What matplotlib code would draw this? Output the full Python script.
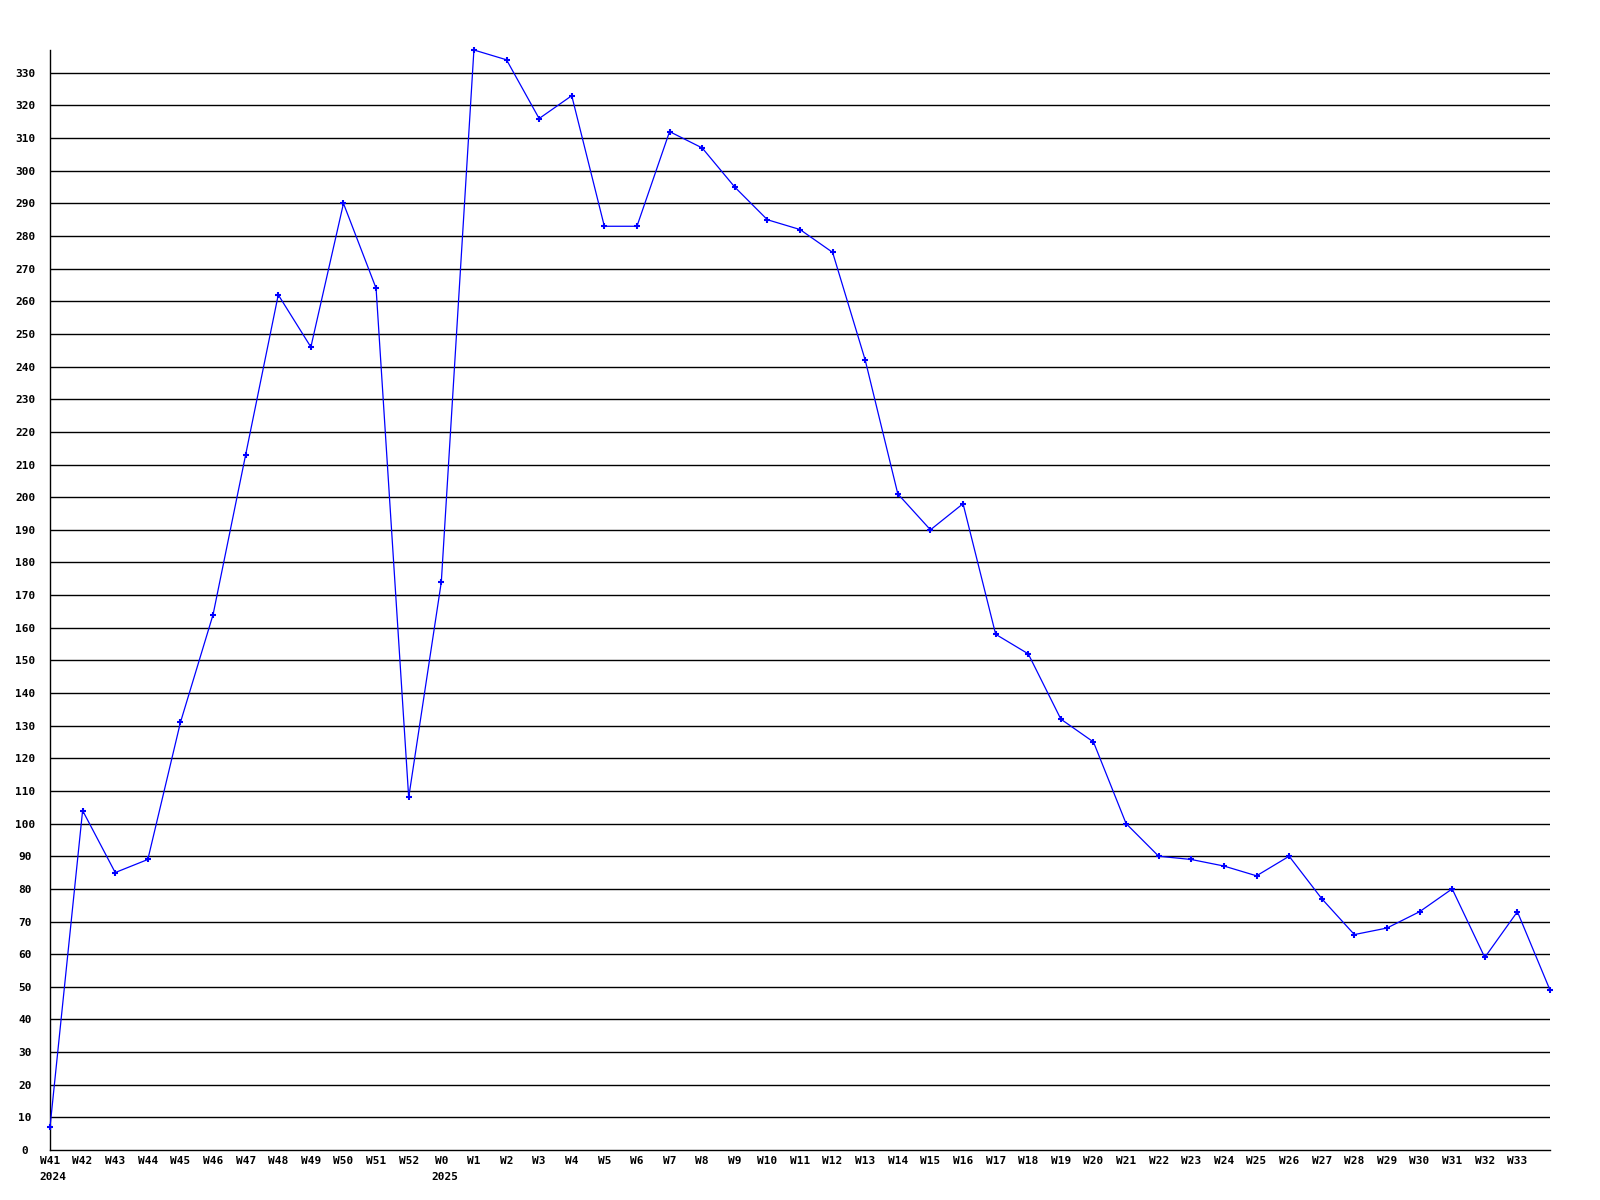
import numpy as np
import matplotlib
matplotlib.use('Agg')
import matplotlib.pyplot as plt

weeks = ['W41', 'W42', 'W43', 'W44', 'W45', 'W46', 'W47', 'W48', 'W49', 'W50',
         'W51', 'W52', 'W0', 'W1', 'W2', 'W3', 'W4', 'W5', 'W6', 'W7', 'W8',
         'W9', 'W10', 'W11', 'W12', 'W13', 'W14', 'W15', 'W16', 'W17', 'W18',
         'W19', 'W20', 'W21', 'W22', 'W23', 'W24', 'W25', 'W26', 'W27', 'W28',
         'W29', 'W30', 'W31', 'W32', 'W33', '']
values = [7, 104, 85, 89, 131, 164, 213, 262, 246, 290,
          264, 108, 174, 337, 334, 316, 323, 283, 283, 312, 307,
          295, 285, 282, 275, 242, 201, 190, 198, 158, 152,
          132, 125, 100, 90, 89, 87, 84, 90, 77, 66,
          68, 73, 80, 59, 73, 49]
years = {0: '2024', 12: '2025'}
yticks = list(range(0, 331, 10))

fig = plt.figure(figsize=(16, 12), dpi=100)
ax = fig.add_axes([50/1600, 50/1200, 1500/1600, 1100/1200])

x = np.arange(len(values))
for t in yticks[1:]:
    ax.axhline(t, color='black', lw=1.0, zorder=1)
ax.plot(x, values, color='#0000ff', lw=0.9, marker='+', markersize=4,
        markeredgewidth=1.5, zorder=3, clip_on=False)

ax.set_xlim(0, len(values) - 1)
ax.set_ylim(0, 337)
for s in ['top', 'right']:
    ax.spines[s].set_visible(False)
ax.spines['left'].set_linewidth(1.0)
ax.spines['bottom'].set_linewidth(1.0)

font = dict(family='DejaVu Sans Mono', weight='bold', size=8)
ax.set_yticks(yticks)
ax.set_yticklabels([str(t) for t in yticks], **font)
for lab in ax.get_yticklabels():
    lab.set_horizontalalignment('center')
ax.tick_params(axis='y', length=0, pad=18)

ax.set_xticks(x)
ax.set_xticklabels(weeks, **font)
ax.tick_params(axis='x', length=0, pad=4)

for i, yr in years.items():
    ax.annotate(yr, xy=(i, 0), xycoords=('data', 'axes fraction'),
                xytext=(-7.5, -19.5), textcoords='offset points',
                ha='left', va='center', **font)

fig.savefig('out.png', dpi=100)
